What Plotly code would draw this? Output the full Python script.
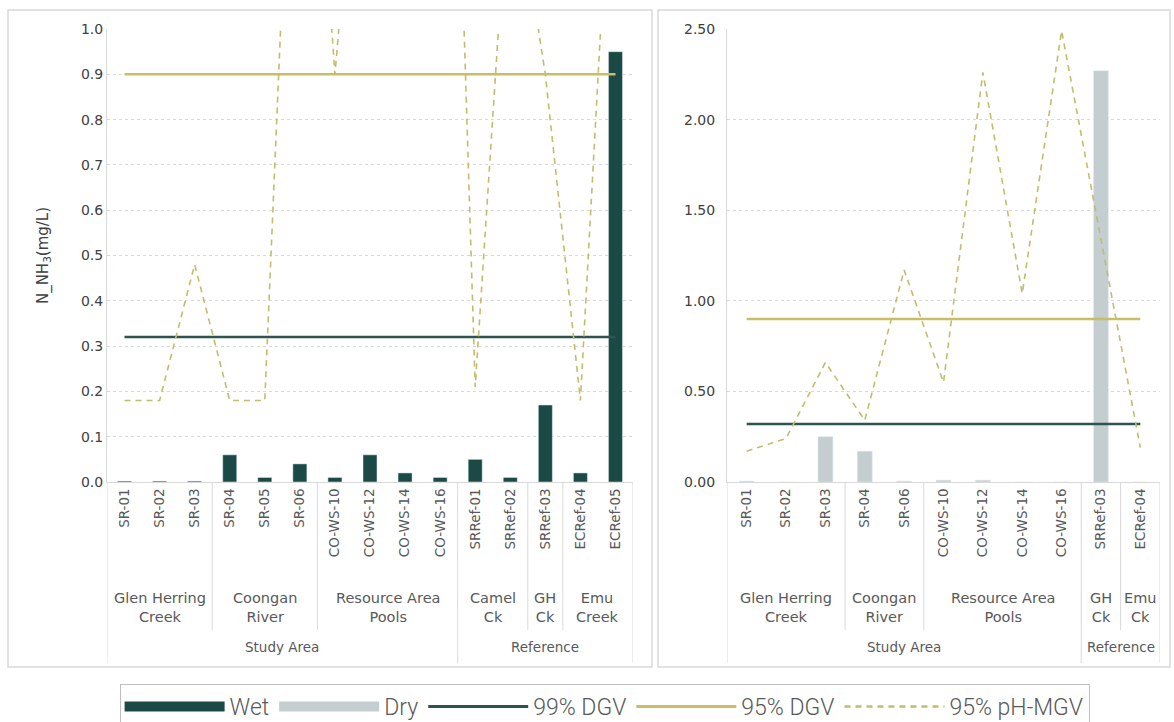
import plotly.graph_objects as go

# ---------------- data ----------------
sites_wet = ["SR-01", "SR-02", "SR-03", "SR-04", "SR-05", "SR-06",
             "CO-WS-10", "CO-WS-12", "CO-WS-14", "CO-WS-16",
             "SRRef-01", "SRRef-02", "SRRef-03", "ECRef-04", "ECRef-05"]
wet_values = [0.002, 0.002, 0.002, 0.06, 0.01, 0.04, 0.01, 0.06, 0.02, 0.01,
              0.05, 0.01, 0.17, 0.02, 0.95]
ph_mgv_wet = [0.18, 0.18, 0.48, 0.18, 0.18, 2.0, 0.9, 1.8, 1.5, 2.7,
              0.21, 1.4, 0.9, 0.18, 1.6]

sites_dry = ["SR-01", "SR-02", "SR-03", "SR-04", "SR-06",
             "CO-WS-10", "CO-WS-12", "CO-WS-14", "CO-WS-16",
             "SRRef-03", "ECRef-04"]
dry_values = [0.005, 0.0, 0.25, 0.17, 0.005, 0.01, 0.01, 0.0, 0.0, 2.27, 0.0]
ph_mgv_dry = [0.17, 0.24, 0.66, 0.34, 1.17, 0.55, 2.26, 1.04, 2.49, 1.35, 0.19]

dgv99 = 0.32
dgv95 = 0.90

wet_groups = ["Glen Herring<br>Creek", "Coongan<br>River", "Resource Area<br>Pools",
              "Camel<br>Ck", "GH<br>Ck", "Emu<br>Creek"]
wet_group_sizes = [3, 3, 4, 2, 1, 2]
wet_areas = ["Study Area", "Reference"]
wet_area_sizes = [10, 5]

dry_groups = ["Glen Herring<br>Creek", "Coongan<br>River", "Resource Area<br>Pools",
              "GH<br>Ck", "Emu<br>Ck"]
dry_group_sizes = [3, 2, 4, 1, 1]
dry_areas = ["Study Area", "Reference"]
dry_area_sizes = [9, 2]

# ---------------- style ----------------
W, H = 1174, 722
C_WET = "#1b4a46"
C_DRY = "#c4cdcf"
C_99 = "#2f5450"
C_95 = "#cbbd62"
C_PH = "#c2bd6e"
C_GRID = "#d9d9d9"
C_TEXT = "#595959"
FONT = "DejaVu Sans, Open Sans, sans-serif"
LEGEND_FONT = "Roboto, Liberation Sans, sans-serif"

def px_x(p):
    return p / W

def px_y(p):
    return 1 - p / H

fig = go.Figure()

# left panel (wet)
fig.add_trace(go.Bar(x=sites_wet, y=wet_values, marker_color=C_WET, width=0.4,
                     name="Wet", showlegend=False, xaxis="x", yaxis="y"))
fig.add_trace(go.Scatter(x=sites_wet, y=[dgv99] * len(sites_wet), mode="lines",
                         line=dict(color=C_99, width=2.5), name="99% DGV",
                         legendgroup="99", showlegend=False, xaxis="x", yaxis="y"))
fig.add_trace(go.Scatter(x=sites_wet, y=[dgv95] * len(sites_wet), mode="lines",
                         line=dict(color=C_95, width=2.5), name="95% DGV",
                         legendgroup="95", showlegend=False, xaxis="x", yaxis="y"))
fig.add_trace(go.Scatter(x=sites_wet, y=ph_mgv_wet, mode="lines",
                         line=dict(color=C_PH, width=1.6, dash="6px,5px"), name="95% pH-MGV",
                         legendgroup="ph", showlegend=False, xaxis="x", yaxis="y"))

# right panel (dry)
fig.add_trace(go.Bar(x=sites_dry, y=dry_values, marker_color=C_DRY, width=0.38,
                     name="Dry", showlegend=False, xaxis="x2", yaxis="y2"))
fig.add_trace(go.Scatter(x=sites_dry, y=[dgv99] * len(sites_dry), mode="lines",
                         line=dict(color=C_99, width=2.5), name="99% DGV",
                         legendgroup="99", showlegend=False, xaxis="x2", yaxis="y2"))
fig.add_trace(go.Scatter(x=sites_dry, y=[dgv95] * len(sites_dry), mode="lines",
                         line=dict(color=C_95, width=2.5), name="95% DGV",
                         legendgroup="95", showlegend=False, xaxis="x2", yaxis="y2"))
fig.add_trace(go.Scatter(x=sites_dry, y=ph_mgv_dry, mode="lines",
                         line=dict(color=C_PH, width=1.6, dash="6px,5px"), name="95% pH-MGV",
                         legendgroup="ph", showlegend=False, xaxis="x2", yaxis="y2"))

# legend entries
for name, color, width, dash, grp in [
    ("Wet", C_WET, 10, "solid", "wet"),
    ("Dry", C_DRY, 10, "solid", "dry"),
    ("99% DGV", C_99, 3, "solid", "99"),
    ("95% DGV", C_95, 3, "solid", "95"),
    ("95% pH-MGV", C_PH, 2.5, "6px,5px", "ph"),
]:
    fig.add_trace(go.Scatter(x=[None], y=[None], mode="lines", name=name,
                             line=dict(color=color, width=width, dash=dash),
                             legendgroup=grp, showlegend=True, xaxis="x", yaxis="y"))

# ---------------- axes ----------------
y_bot = px_y(482)
y_top = px_y(29)
common_x = dict(type="category", tickangle=-90, showline=True, linecolor=C_GRID,
                linewidth=1, ticks="", showgrid=False, zeroline=False, automargin=False,
                tickfont=dict(family=FONT, size=13.5, color=C_TEXT))
common_y = dict(showline=True, linecolor=C_GRID, linewidth=1, ticks="",
                showgrid=True, gridcolor=C_GRID, griddash="dot", gridwidth=1,
                zeroline=False, automargin=False,
                tickfont=dict(family=FONT, size=14, color="#404040"))

fig.update_layout(
    xaxis=dict(domain=[px_x(107), px_x(633)], anchor="y",
               categoryorder="array", categoryarray=sites_wet,
               range=[-0.5, len(sites_wet) - 0.5], **common_x),
    yaxis=dict(domain=[y_bot, y_top], anchor="x", range=[0, 1.0], dtick=0.1,
               tickformat=".1f",
               title=dict(text="N_NH<sub>3</sub>(mg/L)", standoff=28,
                          font=dict(family=FONT, size=15, color="#404040")),
               **common_y),
    xaxis2=dict(domain=[px_x(727), px_x(1160)], anchor="y2",
                categoryorder="array", categoryarray=sites_dry,
                range=[-0.5, len(sites_dry) - 0.5], **common_x),
    yaxis2=dict(domain=[y_bot, y_top], anchor="x2", range=[0, 2.5], dtick=0.5,
                tickformat=".2f", ticklabelstandoff=8, **common_y),
)

# ---------------- multi-level category labels ----------------
shapes = []
annotations = []
y_inner_bot = px_y(630)
y_outer_bot = px_y(663)
y_group = px_y(607)
y_area = px_y(647)

def add_levels(xref, groups, sizes, areas, area_sizes, n):
    area_bounds = set([0, n])
    c = 0
    for s in area_sizes:
        c += s
        area_bounds.add(c)
    c = 0
    for lab, s in zip(groups, sizes):
        annotations.append(dict(x=c + (s - 1) / 2, y=y_group, xref=xref, yref="paper",
                                text=lab, showarrow=False, yanchor="middle",
                                font=dict(family=FONT, size=14.5, color=C_TEXT)))
        c += s
        if c not in area_bounds:
            shapes.append(dict(type="line", xref=xref, yref="paper", x0=c - 0.5, x1=c - 0.5,
                               y0=y_bot, y1=y_inner_bot, line=dict(color=C_GRID, width=1)))
    c = 0
    for lab, s in zip(areas, area_sizes):
        annotations.append(dict(x=c + (s - 1) / 2, y=y_area, xref=xref, yref="paper",
                                text=lab, showarrow=False, yanchor="middle",
                                font=dict(family=FONT, size=13.5, color=C_TEXT)))
        c += s
    for b in sorted(area_bounds):
        shapes.append(dict(type="line", xref=xref, yref="paper", x0=b - 0.5, x1=b - 0.5,
                           y0=y_bot, y1=y_outer_bot, line=dict(color=C_GRID, width=1)))

add_levels("x", wet_groups, wet_group_sizes, wet_areas, wet_area_sizes, len(sites_wet))
add_levels("x2", dry_groups, dry_group_sizes, dry_areas, dry_area_sizes, len(sites_dry))

# panel frames
shapes.append(dict(type="rect", xref="paper", yref="paper", x0=px_x(8), x1=px_x(652),
                   y0=px_y(667), y1=px_y(10), line=dict(color=C_GRID, width=1.5),
                   fillcolor="rgba(0,0,0,0)", layer="below"))
shapes.append(dict(type="rect", xref="paper", yref="paper", x0=px_x(658), x1=px_x(1170),
                   y0=px_y(667), y1=px_y(10), line=dict(color=C_GRID, width=1.5),
                   fillcolor="rgba(0,0,0,0)", layer="below"))

fig.update_layout(
    width=W, height=H, margin=dict(l=0, r=0, t=0, b=0, autoexpand=False),
    paper_bgcolor="white", plot_bgcolor="white",
    barmode="overlay", shapes=shapes, annotations=annotations,
    legend=dict(orientation="h", x=0.515, xanchor="center", y=px_y(684), yanchor="top",
                bordercolor="#bfbfbf", borderwidth=1, itemwidth=100,
                font=dict(family=LEGEND_FONT, size=23, color=C_TEXT, weight=300),
                tracegroupgap=0),
)

fig.write_html("out.html", config={"displayModeBar": False},
               post_script="document.body.style.margin='0';")
